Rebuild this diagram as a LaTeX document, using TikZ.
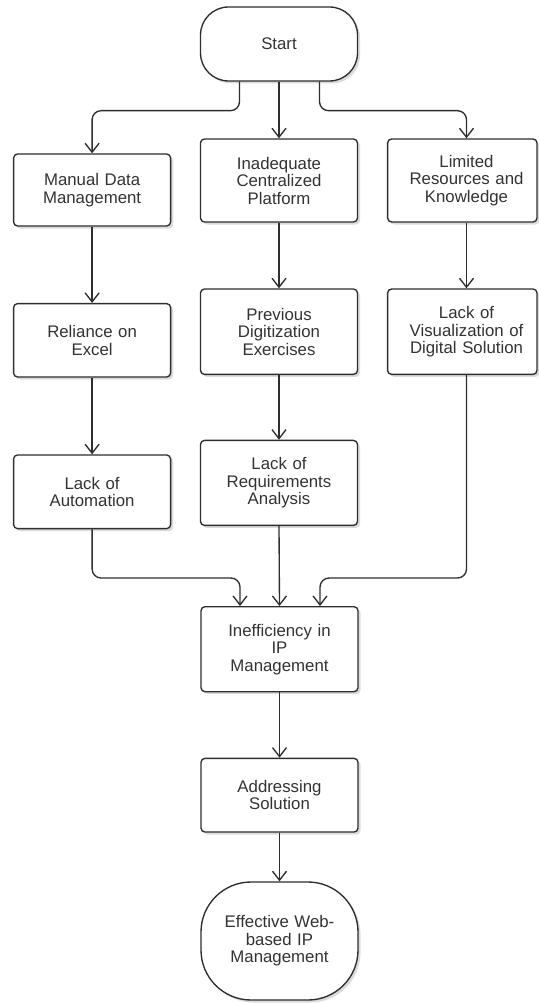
\documentclass[tikz,border=0pt]{standalone}
\usepackage{fontspec}
\setmainfont{Liberation Sans}
\usetikzlibrary{arrows.meta,shadows,calc}
\definecolor{ln}{HTML}{2E2E2E}
\definecolor{tx}{HTML}{333333}
\newcommand\myshift{\hspace*{8.4pt}}
\begin{document}
\begin{tikzpicture}[x=1pt,y=-1pt,
  base/.style={draw=ln, line width=1.35pt, fill=white, text=tx,
    font=\fontsize{16.8}{17.5}\selectfont, align=center, inner sep=0pt,
    drop shadow={shadow xshift=2.5pt, shadow yshift=-2.5pt, fill=black, opacity=0.14}},
  box/.style={base, rounded corners=4pt, minimum width=157pt, text width=150pt},
  narrowbox/.style={base, rounded corners=4pt, minimum width=149.4pt, text width=145pt},
  term/.style={base, minimum width=157pt, text width=150pt},
  arr/.style={draw=ln, line width=1.35pt, -{Straight Barb[length=9pt,width=14pt]}, rounded corners=9pt}]
\useasboundingbox (0,0) rectangle (538,1003);

\node[term, rounded corners=28pt, minimum height=74pt] (start) at (279,44) {Start};

\node[box, minimum height=72pt] (manual) at (92.1,190) {Manual Data\\Management};
\node[box, minimum height=83pt] (inad) at (279,180.5) {Inadequate\\Centralized\\Platform};
\node[narrowbox, minimum height=83pt] (lim) at (462.3,180.5) {\myshift Limited\\\myshift Resources and\\\myshift Knowledge};

\node[box, minimum height=73.4pt] (rel) at (92.1,340.3) {Reliance on\\Excel};
\node[box, minimum height=85.4pt] (prev) at (279,331.7) {Previous\\Digitization\\Exercises};
\node[narrowbox, minimum height=85.4pt] (vis) at (462.3,331.7) {\myshift Lack of\\\myshift Visualization of\\\myshift Digital Solution};

\node[box, minimum height=73.7pt] (auto) at (92.1,491.8) {Lack of\\Automation};
\node[box, minimum height=85pt] (req) at (279,482.9) {Lack of\\Requirements\\Analysis};

\node[box, minimum height=85pt] (ineff) at (279.5,649.2) {Inefficiency in\\IP\\Management};
\node[box, minimum height=73.7pt] (addr) at (279.5,795.2) {Addressing\\Solution};
\node[term, rounded corners=50pt, minimum height=118pt] (eff) at (279.5,941) {Effective Web-\\based IP\\Management};

\draw[arr] ([xshift=-39.5pt]start.south) -- ++(0,29) -| (manual.north);
\draw[arr] (start.south) -- (inad.north);
\draw[arr] ([xshift=40.5pt]start.south) -- ++(0,29) -| ([xshift=4.2pt]lim.north);

\draw[arr] (manual.south) -- (rel.north);
\draw[arr] (rel.south) -- (auto.north);
\draw[arr] (inad.south) -- (prev.north);
\draw[arr] (prev.south) -- (req.north);
\draw[arr] ([xshift=4.2pt]lim.south) -- ([xshift=4.2pt]vis.north);

\draw[arr] (auto.south) |- ($(ineff.north)+(-39.5,-28)$) -- ([xshift=-39.5pt]ineff.north);
\draw[arr] (req.south) -- (ineff.north);
\draw[arr] ([xshift=4.2pt]vis.south) |- ($(ineff.north)+(40.5,-28)$) -- ([xshift=40.5pt]ineff.north);

\draw[arr] (ineff.south) -- (addr.north);
\draw[arr] (addr.south) -- (eff.north);
\end{tikzpicture}
\end{document}
